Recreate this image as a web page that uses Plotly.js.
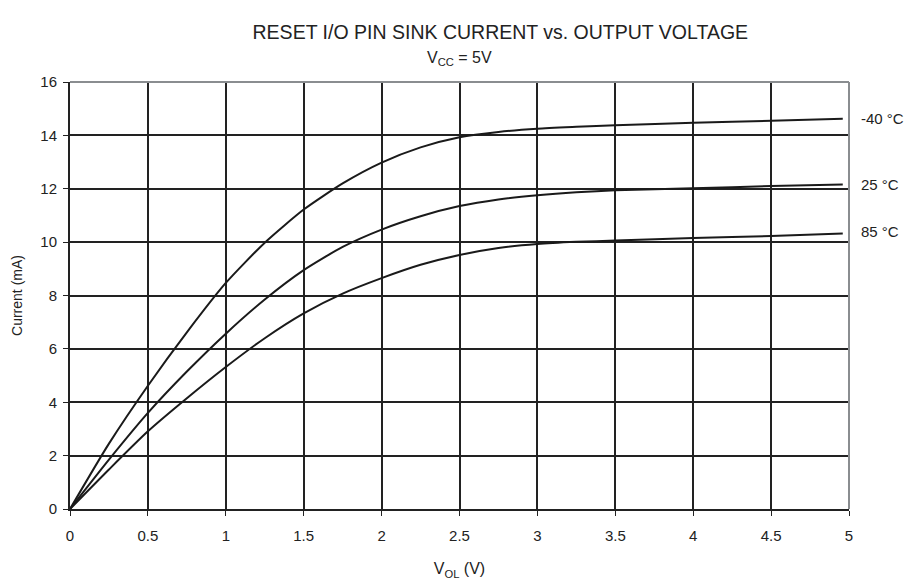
<!DOCTYPE html>
<html>
<head>
<meta charset="utf-8">
<script src="https://cdn.plot.ly/plotly-3.0.1.min.js"></script>
<style>body{margin:0;background:#fff;}#chart{width:918px;height:583px;}</style>
</head>
<body>
<div id="chart"></div>
<script>
const voltage = [0, 0.25, 0.5, 0.75, 1, 1.25, 1.5, 1.75, 2, 2.25, 2.5, 2.75, 3, 3.25, 3.5, 4, 4.5, 4.96];
const currentM40 = [0, 2.45, 4.62, 6.62, 8.47, 9.98, 11.22, 12.2, 12.98, 13.55, 13.93, 14.13, 14.25, 14.32, 14.38, 14.47, 14.55, 14.62];
const current25 = [0, 1.85, 3.6, 5.15, 6.57, 7.85, 8.95, 9.82, 10.47, 10.97, 11.35, 11.6, 11.76, 11.87, 11.94, 12.02, 12.1, 12.16];
const current85 = [0, 1.48, 2.91, 4.15, 5.32, 6.4, 7.33, 8.07, 8.65, 9.15, 9.52, 9.78, 9.93, 10.01, 10.06, 10.15, 10.23, 10.32];
const seriesNames = ["-40 °C", "25 °C", "85 °C"];
const labelY = [14.62, 12.16, 10.4];
const xTicks = [0, 0.5, 1, 1.5, 2, 2.5, 3, 3.5, 4, 4.5, 5];
const yTicks = [0, 2, 4, 6, 8, 10, 12, 14, 16];

const font = "Liberation Sans, Arial, sans-serif";
const allSeries = [currentM40, current25, current85];
const traces = allSeries.map((ys, i) => ({
  x: voltage, y: ys, type: "scatter", mode: "lines", name: seriesNames[i],
  line: {color: "#1a1a1a", width: 2, shape: "spline", smoothing: 0.6},
  hoverinfo: "x+y"
}));

const layout = {
  width: 918, height: 583,
  margin: {l: 70, r: 69, t: 82, b: 74},
  paper_bgcolor: "#fff", plot_bgcolor: "#fff",
  showlegend: false,
  font: {family: font, color: "#222", size: 15},
  title: {text: "RESET I/O PIN SINK CURRENT vs. OUTPUT VOLTAGE", font: {size: 19.5, family: font, color: "#222"}, x: 0.545, xanchor: "center", y: 0.945, yanchor: "middle"},
  xaxis: {
    range: [0, 5], tickvals: xTicks, ticktext: xTicks.map(String),
    showgrid: true, gridcolor: "#222", gridwidth: 2,
    showline: true, linecolor: "#222", linewidth: 2,
    ticks: "outside", ticklen: 5, tickcolor: "#222", tickwidth: 1,
    ticklabelstandoff: 7,
    zeroline: false, tickfont: {size: 15, family: font, color: "#222"},
    title: {text: "V<sub>OL</sub> (V)", font: {size: 16, family: font, color: "#222"}, standoff: 20}
  },
  yaxis: {
    range: [0, 16], tickvals: yTicks, ticktext: yTicks.map(String),
    showgrid: true, gridcolor: "#222", gridwidth: 2,
    showline: true, linecolor: "#222", linewidth: 2,
    ticks: "outside", ticklen: 5, tickcolor: "#222", tickwidth: 1,
    ticklabelstandoff: 3,
    zeroline: false, tickfont: {size: 15, family: font, color: "#222"},
    title: {text: "Current (mA)", font: {size: 14, family: font, color: "#222"}, standoff: 14}
  },
  shapes: [
    {type: "line", xref: "paper", yref: "paper", x0: 0, x1: 1, y0: 1, y1: 1, line: {color: "#8a8d90", width: 2}, layer: "above"},
    {type: "line", xref: "paper", yref: "paper", x0: 1, x1: 1, y0: 0, y1: 1, line: {color: "#8a8d90", width: 2}, layer: "above"}
  ],
  annotations: [
    {text: "V<sub>CC</sub> = 5V", xref: "paper", yref: "paper", x: 0.5, y: 1, yanchor: "middle", yshift: 24, showarrow: false, font: {size: 16, family: font, color: "#222"}}
  ].concat(seriesNames.map((n, i) => ({
    text: n, xref: "paper", yref: "y", x: 1, y: labelY[i], xanchor: "left", xshift: 10,
    showarrow: false, font: {size: 15, family: font, color: "#222"}
  })))
};

Plotly.newPlot("chart", traces, layout, {displayModeBar: false, staticPlot: true});
</script>
</body>
</html>
